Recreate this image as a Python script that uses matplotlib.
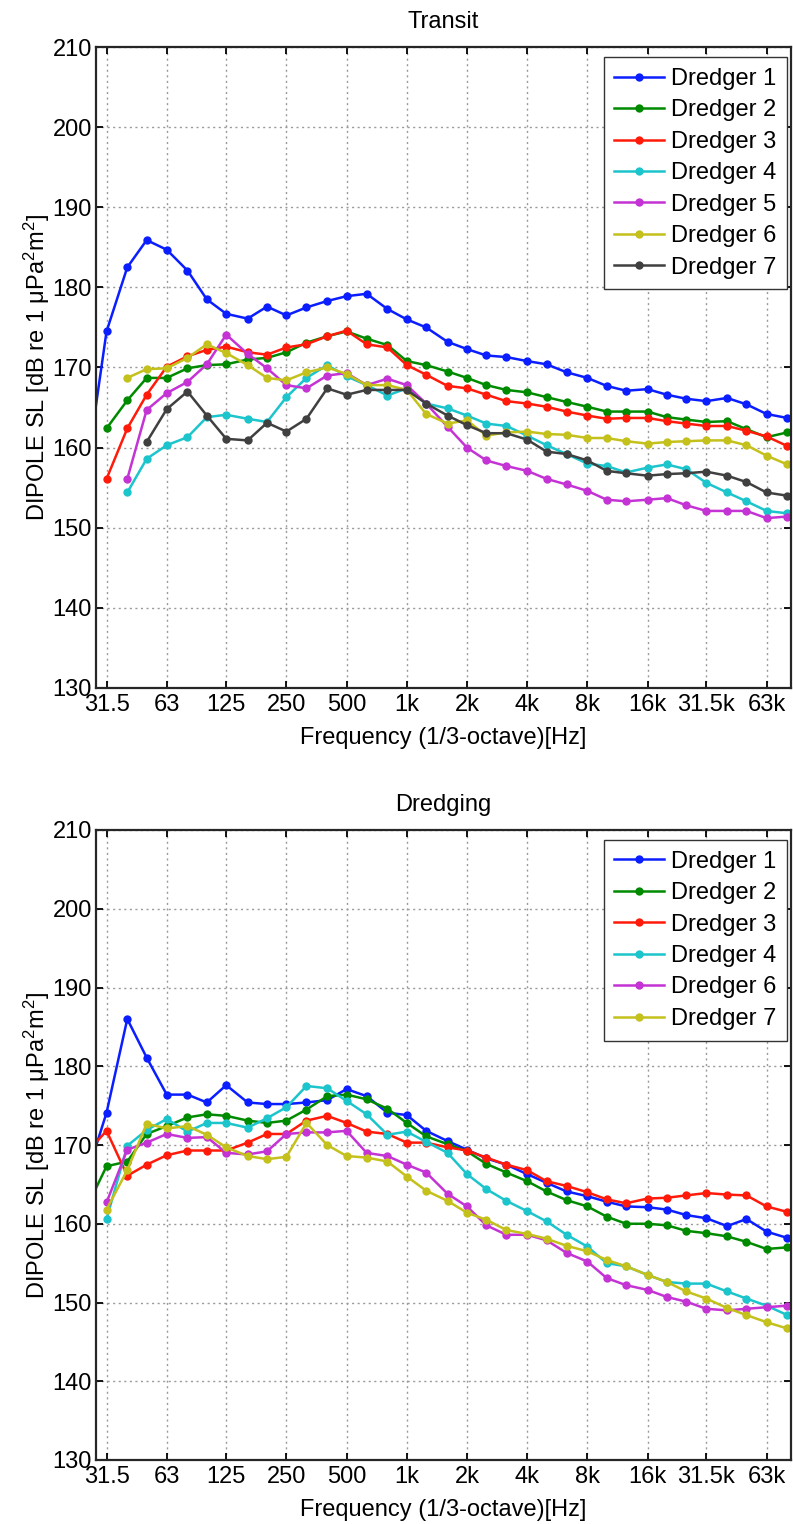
import numpy as np
import matplotlib
matplotlib.use("Agg")
import matplotlib.pyplot as plt

plt.rcParams['font.family'] = ['Liberation Sans', 'DejaVu Sans']
plt.rcParams['mathtext.fontset'] = 'custom'
plt.rcParams['mathtext.rm'] = 'Liberation Sans'
plt.rcParams['mathtext.it'] = 'Liberation Sans:italic'
plt.rcParams['font.size'] = 17

nan = np.nan

# 1/3-octave band centre frequencies (Hz)
bands = [25, 31.5, 40, 50, 63, 80, 100, 125, 160, 200, 250, 315, 400, 500,
         630, 800, 1000, 1250, 1600, 2000, 2500, 3150, 4000, 5000, 6300,
         8000, 10000, 12500, 16000, 20000, 25000, 31500, 40000, 50000,
         63000, 80000]

tick_freqs = [31.5, 63, 125, 250, 500, 1000, 2000, 4000, 8000, 16000, 31500, 63000]
tick_labels = ['31.5', '63', '125', '250', '500', '1k', '2k', '4k', '8k',
               '16k', '31.5k', '63k']

# --- Transit ---
transit_d1 = [157.0, 174.5, 182.5, 185.9, 184.7, 182.1, 178.5, 176.7, 176.1, 177.6,
              176.5, 177.5, 178.3, 178.9, 179.2, 177.3, 176.0, 175.0, 173.2, 172.3,
              171.5, 171.3, 170.8, 170.4, 169.4, 168.7, 167.7, 167.1, 167.3, 166.6,
              166.1, 165.8, 166.2, 165.4, 164.2, 163.7]
transit_d2 = [nan, 162.4, 165.9, 168.7, 168.7, 169.9, 170.3, 170.4, 171.0, 171.2,
              171.9, 173.1, 173.9, 174.5, 173.6, 172.8, 170.8, 170.3, 169.5, 168.7,
              167.8, 167.2, 166.9, 166.3, 165.7, 165.1, 164.5, 164.5, 164.5, 163.8,
              163.5, 163.2, 163.3, 162.3, 161.3, 161.9]
transit_d3 = [nan, 156.1, 162.4, 166.6, 170.1, 171.4, 172.2, 172.6, 171.9, 171.6,
              172.5, 172.9, 173.9, 174.6, 172.9, 172.5, 170.3, 169.1, 167.7, 167.4,
              166.6, 165.8, 165.5, 165.1, 164.5, 164.0, 163.6, 163.7, 163.7, 163.3,
              163.0, 162.7, 162.7, 162.1, 161.4, 160.2]
transit_d4 = [nan, nan, 154.4, 158.6, 160.3, 161.3, 163.8, 164.1, 163.6, 163.2,
              166.3, 168.7, 170.3, 168.9, 167.8, 166.5, 167.4, 165.5, 164.9, 164.0,
              163.0, 162.7, 161.5, 160.3, 159.2, 158.0, 157.7, 156.9, 157.5, 157.9,
              157.3, 155.6, 154.4, 153.3, 152.1, 151.8]
transit_d5 = [nan, nan, 156.1, 164.7, 166.8, 168.2, 170.4, 174.1, 171.7, 169.9,
              167.8, 167.4, 169.0, 169.3, 167.8, 168.6, 167.8, 165.5, 162.6, 160.0,
              158.4, 157.7, 157.1, 156.1, 155.4, 154.6, 153.5, 153.3, 153.5, 153.7,
              152.8, 152.1, 152.1, 152.1, 151.2, 151.4]
transit_d6 = [nan, nan, 168.7, 169.8, 169.9, 171.2, 172.9, 171.8, 170.3, 168.7,
              168.4, 169.4, 170.0, 169.2, 167.8, 167.8, 167.2, 164.2, 163.0, 163.4,
              161.5, 161.9, 162.0, 161.7, 161.6, 161.2, 161.2, 160.8, 160.5, 160.7,
              160.8, 160.9, 160.9, 160.3, 159.0, 157.9]
transit_d7 = [nan, nan, nan, 160.7, 164.8, 167.0, 164.0, 161.1, 160.9, 163.1,
              162.0, 163.6, 167.4, 166.6, 167.2, 167.2, 167.2, 165.5, 164.0, 162.8,
              161.8, 161.8, 161.0, 159.5, 159.2, 158.4, 157.1, 156.8, 156.5, 156.7,
              156.8, 157.0, 156.5, 155.7, 154.4, 154.0]

# --- Dredging ---
dredging_d1 = [166.0, 174.1, 186.0, 181.1, 176.4, 176.4, 175.4, 177.6, 175.4, 175.2,
               175.2, 175.4, 175.7, 177.1, 176.2, 174.1, 173.8, 171.8, 170.5, 169.4,
               168.3, 167.5, 166.3, 165.2, 164.1, 163.5, 162.8, 162.2, 162.1, 161.8,
               161.1, 160.7, 159.7, 160.6, 159.0, 158.2]
dredging_d2 = [162.0, 167.3, 167.9, 171.4, 172.4, 173.5, 173.9, 173.7, 173.1, 172.8,
               173.1, 174.5, 176.2, 176.4, 175.8, 174.6, 172.8, 171.1, 170.1, 169.2,
               167.6, 166.5, 165.4, 164.1, 163.0, 162.2, 160.9, 160.0, 160.0, 159.8,
               159.1, 158.8, 158.4, 157.7, 156.8, 157.0]
dredging_d3 = [169.0, 171.8, 166.1, 167.5, 168.7, 169.3, 169.3, 169.3, 170.3, 171.4,
               171.4, 173.1, 173.7, 172.8, 171.7, 171.4, 170.3, 170.3, 169.7, 169.3,
               168.4, 167.5, 166.8, 165.4, 164.8, 164.0, 163.1, 162.6, 163.2, 163.3,
               163.6, 163.9, 163.7, 163.6, 162.2, 161.5]
dredging_d4 = [nan, 160.6, 169.9, 171.9, 173.3, 171.7, 172.8, 172.8, 172.2, 173.4,
               174.8, 177.5, 177.2, 175.6, 173.9, 171.3, 171.7, 170.4, 169.0, 166.3,
               164.4, 162.9, 161.6, 160.3, 158.6, 157.1, 155.0, 154.6, 153.5, 152.6,
               152.4, 152.4, 151.4, 150.5, 149.6, 148.4]
dredging_d6 = [nan, 162.7, 169.4, 170.3, 171.4, 170.9, 171.0, 169.0, 168.8, 169.2,
               171.4, 171.6, 171.6, 171.8, 169.0, 168.6, 167.5, 166.5, 163.8, 162.2,
               159.8, 158.6, 158.6, 157.9, 156.3, 155.2, 153.1, 152.2, 151.6, 150.7,
               150.1, 149.2, 149.0, 149.2, 149.4, 149.6]
dredging_d7 = [nan, 161.8, 166.8, 172.7, 172.1, 172.4, 171.3, 169.7, 168.6, 168.2,
               168.5, 172.8, 170.0, 168.6, 168.4, 167.9, 166.0, 164.2, 162.9, 161.4,
               160.5, 159.2, 158.7, 158.1, 157.2, 156.5, 155.4, 154.6, 153.5, 152.6,
               151.4, 150.5, 149.3, 148.4, 147.5, 146.7]

# roughly the old MATLAB default colour order
colors = ['#0a1eff', '#008a00', '#ff1a0a', '#1cc4cc', '#c433d4', '#c4c01c', '#404040']

transit = [transit_d1, transit_d2, transit_d3, transit_d4, transit_d5, transit_d6, transit_d7]
transit_names = ['Dredger 1', 'Dredger 2', 'Dredger 3', 'Dredger 4',
                 'Dredger 5', 'Dredger 6', 'Dredger 7']
dredging = [dredging_d1, dredging_d2, dredging_d3, dredging_d4, dredging_d6, dredging_d7]
dredging_names = ['Dredger 1', 'Dredger 2', 'Dredger 3', 'Dredger 4',
                  'Dredger 6', 'Dredger 7']

ylabel = 'DIPOLE SL [dB re 1 μPa$^2$m$^2$]'

fig = plt.figure(figsize=(7.93, 15.24), dpi=100)
W, H = 793.0, 1524.0
ax1 = fig.add_axes([96 / W, 1 - 688 / H, 695 / W, 641 / H])
ax2 = fig.add_axes([96 / W, 1 - 1460 / H, 695 / W, 630 / H])


def draw_panel(ax, series, names, title):
    for vals, name, c in zip(series, names, colors):
        ax.plot(bands, vals, '-o', color=c, lw=1.8, ms=6, mew=0, label=name)
    ax.set_xscale('log')
    ax.set_xlim(27.9, 83500)
    ax.set_ylim(130, 210)
    ax.set_yticks(np.arange(130, 211, 10))
    ax.set_xticks(tick_freqs)
    ax.set_xticklabels(tick_labels)
    ax.xaxis.set_minor_locator(matplotlib.ticker.NullLocator())
    ax.grid(True, linestyle=(0, (1.5, 2.5)), color='#9a9a9a', lw=1.0)
    ax.tick_params(direction='in', length=5, width=1.3, top=True, right=True,
                   labelsize=17, pad=4)
    ax.tick_params(axis='y', pad=3)
    for s in ax.spines.values():
        s.set_linewidth(1.6)
        s.set_color('#262626')
    ax.set_title(title, fontsize=17, pad=14)
    ax.set_xlabel('Frequency (1/3-octave)[Hz]', fontsize=17, labelpad=8)
    ax.set_ylabel(ylabel, fontsize=17, labelpad=0)
    leg = ax.legend(loc='upper right', bbox_to_anchor=(0.994, 0.984),
                    borderaxespad=0, fancybox=False, framealpha=1,
                    edgecolor='#333333', numpoints=1, handlelength=2.1,
                    handletextpad=0.3, labelspacing=0.4, borderpad=0.45,
                    fontsize=17)
    leg.get_frame().set_linewidth(1.0)


draw_panel(ax1, transit, transit_names, 'Transit')
draw_panel(ax2, dredging, dredging_names, 'Dredging')

fig.savefig('out.png', dpi=100)
